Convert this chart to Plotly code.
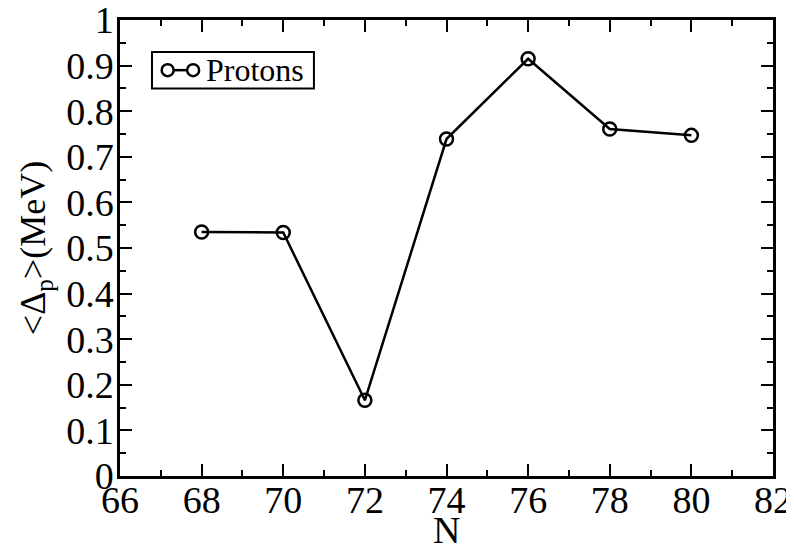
import plotly.graph_objects as go

N = [68, 70, 72, 74, 76, 78, 80]
delta_p = [0.535, 0.534, 0.166, 0.739, 0.915, 0.761, 0.747]
series_name = "Protons"
x_ticks = [66, 68, 70, 72, 74, 76, 78, 80, 82]
y_ticks = [0, 0.1, 0.2, 0.3, 0.4, 0.5, 0.6, 0.7, 0.8, 0.9, 1]
y_tick_labels = ["0", "0.1", "0.2", "0.3", "0.4", "0.5", "0.6", "0.7", "0.8", "0.9", "1"]
x_title = "N"
y_title = "<Δ<sub>p</sub>>(MeV)"

FONT = "Liberation Serif, Times New Roman, Times, serif"

fig = go.Figure()
fig.add_trace(go.Scatter(
    x=N, y=delta_p, mode="lines+markers", name=series_name,
    line=dict(color="black", width=2.5),
    marker=dict(symbol="circle-open", size=13, color="black", line=dict(width=2.5)),
    showlegend=False,
))

axis_common = dict(
    showgrid=False, zeroline=False, showline=True, linecolor="black", linewidth=2.5,
    mirror="allticks", ticks="inside", ticklen=12, tickwidth=2, tickcolor="black",
    tickfont=dict(family=FONT, size=38, color="black"), automargin=False,
    ticklabeloverflow="allow",
)

fig.update_xaxes(
    range=[66, 82], tickvals=x_ticks, ticktext=[str(v) for v in x_ticks],
    minor=dict(ticks="inside", ticklen=6, tickwidth=2, tickcolor="black", dtick=1),
    ticklabelstandoff=-11,
    **axis_common,
)
fig.update_yaxes(
    range=[0, 1], tickvals=y_ticks, ticktext=y_tick_labels,
    minor=dict(ticks="inside", ticklen=6, tickwidth=2, tickcolor="black", dtick=0.05),
    ticklabelstandoff=-4,
    title=dict(text=y_title, font=dict(family=FONT, size=36, color="black"), standoff=10),
    **axis_common,
)

# custom legend (o-o symbol) in paper coordinates
lx0, lx1, ly0, ly1 = 0.049, 0.297, 0.85, 0.93
cy = (ly0 + ly1) / 2
c1, c2 = 0.073, 0.112
shapes = [
    dict(type="rect", xref="paper", yref="paper", x0=lx0, x1=lx1, y0=ly0, y1=ly1,
         line=dict(color="black", width=2), fillcolor="white"),
    dict(type="line", xref="paper", yref="paper", x0=c1, x1=c2, y0=cy, y1=cy,
         line=dict(color="black", width=2.5)),
]
for cx in (c1, c2):
    r_px = 6
    shapes.append(dict(type="circle", xref="paper", yref="paper",
                       xsizemode="pixel", ysizemode="pixel", xanchor=cx, yanchor=cy,
                       x0=-r_px, x1=r_px, y0=-r_px, y1=r_px,
                       line=dict(color="black", width=2.5), fillcolor="white"))
fig.update_layout(
    shapes=shapes,
    annotations=[
        dict(text=series_name, xref="paper", yref="paper", x=0.128, y=cy,
             xanchor="left", yanchor="middle", showarrow=False,
             font=dict(family=FONT, size=32, color="black")),
        dict(text=x_title, xref="paper", yref="paper", x=0.5, y=-0.118,
             xanchor="center", yanchor="middle", showarrow=False,
             font=dict(family=FONT, size=38, color="black")),
    ],
    width=786, height=537,
    margin=dict(l=112, r=21, t=12, b=69, pad=0),
    plot_bgcolor="white", paper_bgcolor="white",
    font=dict(family=FONT, color="black"),
)

fig.write_html("out.html")
